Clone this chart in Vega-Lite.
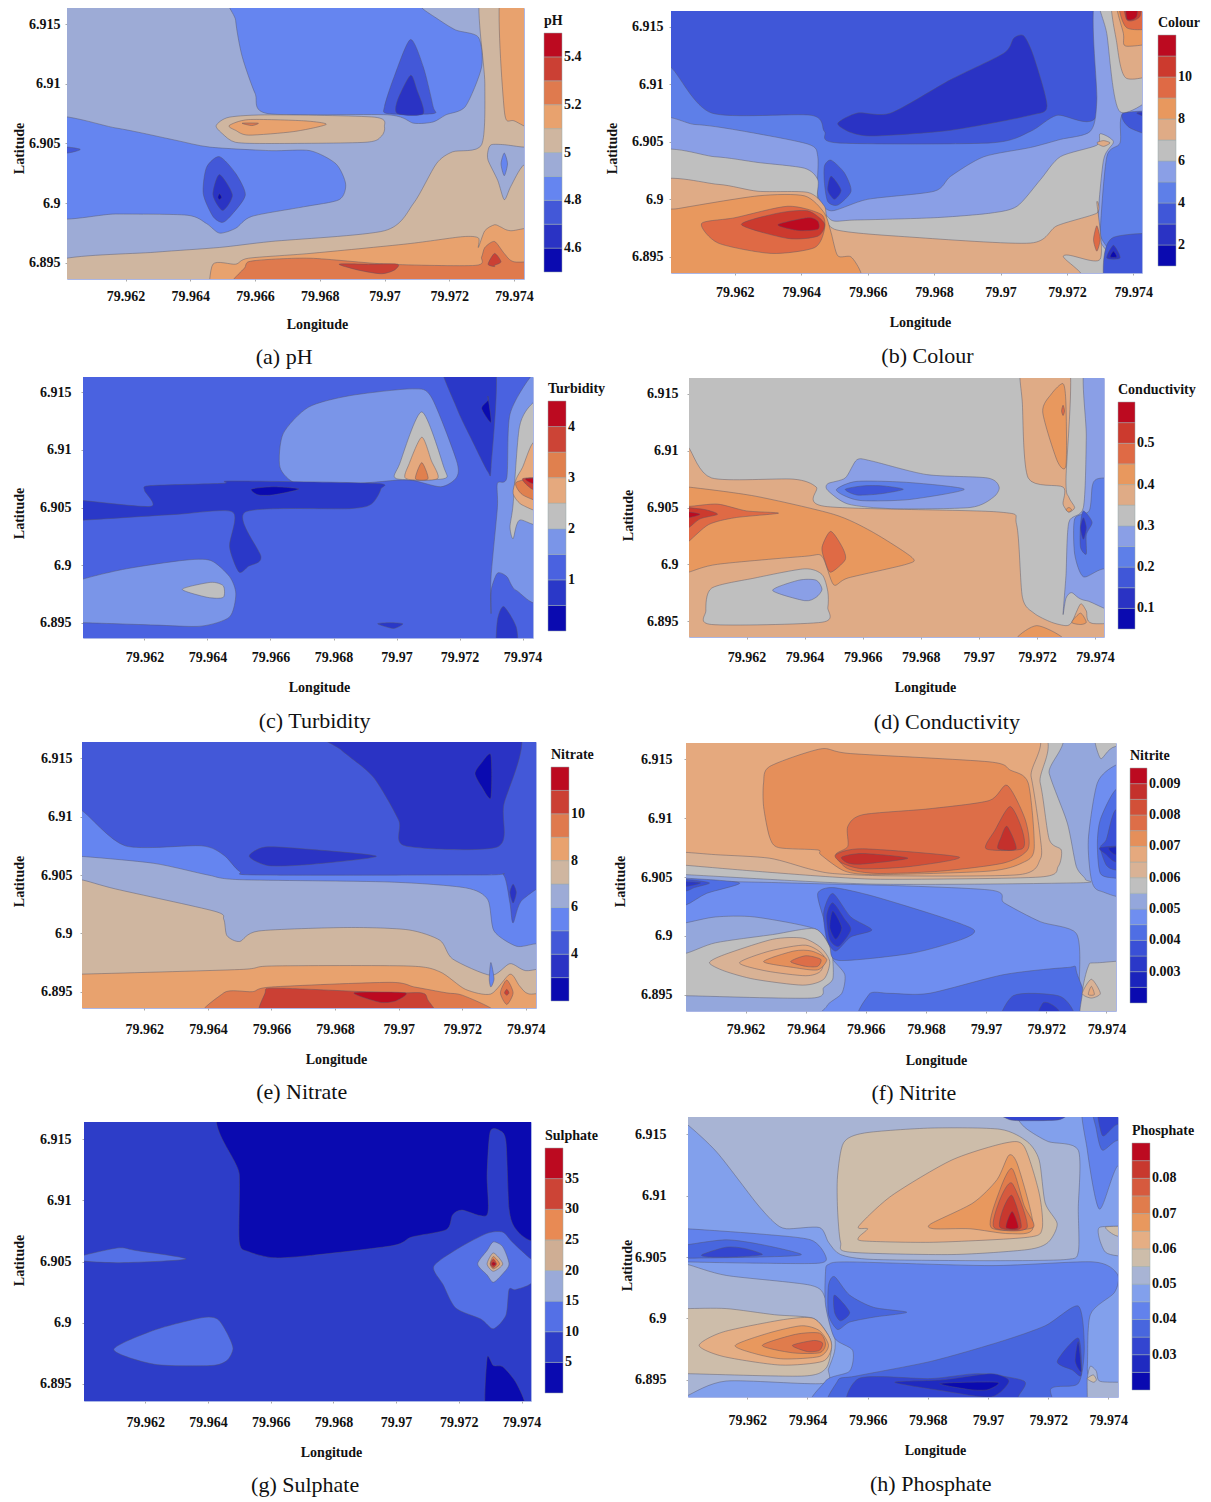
{"$schema":"https://vega.github.io/schema/vega-lite/v6.json","padding":{"left":0,"top":7,"right":0,"bottom":0},"background":"white","config":{"font":"Liberation Serif","view":{"stroke":"#aab6e6","strokeWidth":1},"axis":{"grid":false,"domain":false,"tickColor":"#aaa","tickSize":2,"labelFont":"Liberation Serif","labelFontWeight":"bold","labelFontSize":14,"labelColor":"#111","titleFont":"Liberation Serif","titleFontWeight":"bold","titleFontSize":14,"titleColor":"#111"},"legend":{"orient":"none","gradientStrokeColor":"#9aa","gradientStrokeWidth":0.5,"labelOverlap":false,"labelOffset":6,"titleFont":"Liberation Serif","titleFontWeight":"bold","titleFontSize":14,"titleColor":"#111","labelFont":"Liberation Serif","labelFontWeight":"bold","labelFontSize":14,"labelColor":"#111"},"line":{"interpolate":"cardinal-closed","tension":0.25,"order":null,"stroke":"#556","strokeWidth":0.6,"strokeOpacity":0.75},"text":{"fontSize":22,"color":"#111"}},"resolve":{"scale":{"fill":"independent"}},"spacing":7,"vconcat":[
{"spacing":22,"resolve":{"scale":{"fill":"independent"}},"hconcat":[
{"spacing":11,"resolve":{"scale":{"fill":"independent"}},"hconcat":[{"width":1,"height":1,"data":{"values":[{"s":0}]},"mark":{"type":"point","size":0,"opacity":0},"encoding":{},"view":{"stroke":null}},
{"width":457,"height":271,"layer":[{"data":{"values":[
{"id":1,"v":4.95,"x":[79.959,79.976,79.976,79.959],"y":[6.892,6.892,6.918,6.918]},
{"id":2,"v":5.05,"x":[79.9599,79.9629,79.9649,79.9665,79.97,79.9709,79.9716,79.9721,79.973,79.9731,79.973,79.975,79.975,79.9599],"y":[6.8952,6.8959,6.8963,6.8968,6.8977,6.9,6.9033,6.9043,6.9049,6.91,6.918,6.918,6.892,6.892]},
{"id":3,"v":4.85,"x":[79.9595,79.9617,79.9635,79.9646,79.9665,79.9677,79.9685,79.9688,79.9686,79.9675,79.9659,79.9654,79.9649,79.9645,79.9639,79.9617,79.9595],"y":[6.907,6.9063,6.9053,6.9047,6.9044,6.9044,6.9033,6.9016,6.9003,6.8997,6.8989,6.8979,6.8975,6.8983,6.899,6.8991,6.8991]},
{"id":4,"v":4.85,"x":[79.9654,79.9654,79.9656,79.966,79.9664,79.9701,79.9709,79.9715,79.9719,79.9725,79.973,79.9729,79.9722,79.9716,79.9711,79.9709],"y":[6.918,6.9153,6.9123,6.9092,6.9075,6.9074,6.9067,6.9068,6.9074,6.9081,6.9114,6.9139,6.9145,6.9155,6.9165,6.918]},
{"id":5,"v":4.75,"x":[79.9708,79.9712,79.9715,79.9715,79.9701,79.97,79.9703],"y":[6.9137,6.9114,6.9081,6.9075,6.9075,6.9081,6.9106]},
{"id":6,"v":4.65,"x":[79.9708,79.971,79.9712,79.9704,79.9704],"y":[6.9107,6.9095,6.9075,6.9075,6.9086]},
{"id":7,"v":4.75,"x":[79.9649,79.9654,79.9657,79.9653,79.965,79.9647,79.9644,79.9645],"y":[6.9039,6.9025,6.9007,6.8991,6.8984,6.8989,6.9008,6.903]},
{"id":8,"v":4.65,"x":[79.9649,79.9653,79.965,79.9647],"y":[6.9024,6.9007,6.8994,6.9007]},
{"id":9,"v":4.55,"x":[79.9649,79.96497,79.9649,79.96485],"y":[6.9008,6.9005,6.9003,6.9005]},
{"id":10,"v":4.75,"x":[79.9595,79.9602,79.9606,79.9602,79.9595],"y":[6.9047,6.9047,6.9045,6.9042,6.9042]},
{"id":11,"v":5.05,"x":[79.9648,79.9652,79.9665,79.9697,79.97,79.9699,79.9694,79.9665,79.9654,79.965],"y":[6.9065,6.9072,6.9074,6.9072,6.9064,6.9056,6.9051,6.905,6.9051,6.9058]},
{"id":12,"v":5.15,"x":[79.9652,79.9658,79.9675,79.9682,79.9672,79.9658,79.9654],"y":[6.9065,6.907,6.9069,6.9066,6.906,6.9057,6.9061]},
{"id":13,"v":5.25,"x":[79.9656,79.9661,79.9659],"y":[6.9067,6.9067,6.9065]},
{"id":14,"v":5.15,"x":[79.9736,79.9737,79.974,79.975,79.975],"y":[6.918,6.9078,6.9069,6.9067,6.918]},
{"id":15,"v":4.95,"x":[79.9732,79.9733,79.9737,79.9743,79.975,79.975,79.9743,79.9739,79.9737,79.9735,79.9732],"y":[6.9044,6.9049,6.9049,6.9047,6.9047,6.9039,6.9032,6.9014,6.9003,6.9019,6.9036]},
{"id":16,"v":4.85,"x":[79.9737,79.9738,79.9737,79.9736],"y":[6.9042,6.9033,6.9023,6.9033]},
{"id":17,"v":5.15,"x":[79.96455,79.9647,79.9654,79.9658,79.9677,79.9707,79.9724,79.9729,79.9729,79.9731,79.9734,79.9736,79.9739,79.975,79.975,79.96455],"y":[6.892,6.8949,6.8949,6.8954,6.8958,6.8966,6.8972,6.8971,6.8963,6.8977,6.8982,6.898,6.8977,6.8977,6.892,6.892]},
{"id":18,"v":5.25,"x":[79.9657,79.9657,79.966,79.9677,79.9701,79.9728,79.973,79.9731,79.9734,79.9737,79.974,79.975,79.975],"y":[6.892,6.8947,6.8952,6.8954,6.8949,6.8948,6.8955,6.8963,6.8968,6.8958,6.8951,6.8949,6.892]},
{"id":19,"v":5.35,"x":[79.9686,79.9695,79.9704,79.9703,79.9699,79.9692],"y":[6.8949,6.8949,6.8949,6.8944,6.8941,6.8944]},
{"id":20,"v":5.35,"x":[79.9732,79.9734,79.9736,79.9734,79.9734],"y":[6.8949,6.8958,6.8951,6.8948,6.8947]}
]},"transform":[{"flatten":["x","y"]}],"mark":{"type":"line","clip":true},"encoding":{"x":{"field":"x","type":"quantitative","scale":{"domain":[79.96019,79.97431],"nice":false,"zero":false},"axis":{"values":[79.962,79.964,79.966,79.968,79.97,79.972,79.974],"labelExpr":"datum.value","title":"Longitude","labelPadding":8,"titlePadding":14,"titleX":250}},"y":{"field":"y","type":"quantitative","scale":{"domain":[6.89366,6.91634],"nice":false,"zero":false},"axis":{"values":[6.895,6.9,6.905,6.91,6.915],"labelExpr":"datum.value","title":"Latitude","labelPadding":5,"titlePadding":2,"titleY":140}},"detail":{"field":"id"},"fill":{"field":"v","type":"quantitative","scale":{"type":"threshold","domain":[4.6,4.7,4.8,4.9,5,5.1,5.2,5.3,5.4],"range":["#0a0ab0","#2a33c4","#4358d8","#6585f0","#9dabd6","#cfb6a0","#e8a26e","#df7a4e","#cb4034","#bc0a20"]},"legend":{"type":"gradient","title":"pH","legendX":477,"legendY":6,"gradientLength":239,"gradientThickness":18,"labelExpr":"indexof([4.6,4.8,5,5.2,5.4],datum.value)<0?'':datum.value"}}}},{"data":{"values":[{"c":"(a) pH"}]},"mark":"text","encoding":{"text":{"field":"c"},"x":{"datum":79.9669},"y":{"datum":6.8871}}}]}]},
{"spacing":1,"resolve":{"scale":{"fill":"independent"}},"vconcat":[{"width":1,"height":1,"data":{"values":[{"s":0}]},"mark":{"type":"point","size":0,"opacity":0},"encoding":{},"view":{"stroke":null}},
{"width":471,"height":262,"layer":[{"data":{"values":[
{"id":1,"v":3.5,"x":[79.959,79.976,79.976,79.959],"y":[6.892,6.892,6.918,6.918]},
{"id":2,"v":4.5,"x":[79.9595,79.9601,79.9613,79.9643,79.9647,79.9651,79.9697,79.9709,79.9717,79.9729,79.973,79.975,79.975,79.9595],"y":[6.9118,6.9114,6.9075,6.9073,6.9059,6.9049,6.9049,6.9059,6.9073,6.9073,6.918,6.918,6.892,6.892]},
{"id":3,"v":5.5,"x":[79.9595,79.9608,79.9621,79.9642,79.9645,79.9645,79.9649,79.966,79.968,79.9685,79.9695,79.9709,79.9718,79.9727,79.9729,79.9729,79.975,79.975,79.9737,79.9736,79.9732,79.973,79.973,79.9595],"y":[6.9063,6.9065,6.906,6.9048,6.9037,6.9003,6.899,6.9,6.9007,6.902,6.9037,6.9045,6.9052,6.9059,6.9086,6.918,6.918,6.9075,6.9075,6.9049,6.9037,6.8971,6.892,6.892]},
{"id":4,"v":6.5,"x":[79.9595,79.9614,79.9627,79.9641,79.9645,79.9645,79.9649,79.9656,79.968,79.9697,79.9705,79.9712,79.9718,79.9729,79.973,79.9734,79.9731,79.9729,79.9729,79.9595],"y":[6.9037,6.9037,6.9032,6.9027,6.9017,6.9,6.8982,6.8982,6.8984,6.8988,6.8994,6.9017,6.9037,6.9047,6.9057,6.905,6.9034,6.8971,6.892,6.892]},
{"id":5,"v":7.5,"x":[79.9595,79.9615,79.9627,79.9642,79.9647,79.965,79.9674,79.9709,79.9717,79.9729,79.9729,79.973,79.9719,79.9719,79.9595],"y":[6.9013,6.9013,6.9007,6.9006,6.8994,6.8974,6.8967,6.8962,6.8977,6.8988,6.8997,6.8948,6.8951,6.892,6.892]},
{"id":6,"v":8.5,"x":[79.9595,79.9603,79.9627,79.9641,79.9647,79.9649,79.9651,79.9655,79.9658,79.9658,79.9595],"y":[6.8987,6.8992,6.9003,6.9003,6.8988,6.8971,6.8951,6.895,6.8936,6.892,6.892]},
{"id":7,"v":9.5,"x":[79.961,79.962,79.9636,79.9646,79.9647,79.9644,79.9631,79.9615],"y":[6.8979,6.8984,6.8994,6.8987,6.8974,6.8958,6.8953,6.8962]},
{"id":8,"v":10.5,"x":[79.9622,79.9633,79.9642,79.9647,79.9645,79.9636],"y":[6.8978,6.8988,6.899,6.8979,6.8968,6.8966]},
{"id":9,"v":11.5,"x":[79.9633,79.9642,79.9645,79.9645,79.9639],"y":[6.8978,6.8984,6.8981,6.8974,6.8973]},
{"id":10,"v":2.5,"x":[79.9651,79.9657,79.9667,79.9685,79.9701,79.9704,79.9707,79.971,79.9714,79.9709,79.9685,79.9662,79.9655],"y":[6.9066,6.9075,6.9075,6.9104,6.9127,6.914,6.9142,6.9124,6.9081,6.9073,6.906,6.9055,6.9058]},
{"id":11,"v":3.5,"x":[79.9649,79.9653,79.9655,79.9651,79.9648,79.9647,79.9647],"y":[6.9034,6.9023,6.9007,6.8995,6.8998,6.9014,6.9029]},
{"id":12,"v":2.5,"x":[79.9649,79.9652,79.965,79.9648],"y":[6.902,6.9008,6.9,6.9008]},
{"id":13,"v":3.5,"x":[79.9734,79.975,79.975,79.9733,79.9731],"y":[6.8967,6.8967,6.892,6.892,6.8945]},
{"id":14,"v":2.5,"x":[79.9734,79.9736,79.9732],"y":[6.896,6.8949,6.8949]},
{"id":15,"v":1.5,"x":[79.9734,79.9735,79.9733],"y":[6.8955,6.895,6.895]},
{"id":16,"v":9.5,"x":[79.9729,79.973,79.9729,79.9728],"y":[6.8977,6.8965,6.8955,6.8965]},
{"id":17,"v":3.5,"x":[79.9737,79.975,79.975,79.9739],"y":[6.9075,6.9075,6.9053,6.9062]},
{"id":18,"v":2.5,"x":[79.9741,79.975,79.975],"y":[6.9075,6.9075,6.9066]},
{"id":19,"v":6.5,"x":[79.973,79.9732,79.9736,79.975,79.975],"y":[6.918,6.9144,6.9076,6.9104,6.918]},
{"id":20,"v":7.5,"x":[79.9734,79.9735,79.9738,79.975,79.975],"y":[6.918,6.9136,6.9105,6.9117,6.918]},
{"id":21,"v":8.5,"x":[79.9735,79.9737,79.9738,79.975,79.975],"y":[6.918,6.9144,6.9133,6.9141,6.918]},
{"id":22,"v":9.5,"x":[79.9736,79.9738,79.975,79.975],"y":[6.918,6.9149,6.9152,6.918]},
{"id":23,"v":10.5,"x":[79.9737,79.9738,79.9742,79.9742],"y":[6.918,6.9156,6.9159,6.918]},
{"id":24,"v":11.5,"x":[79.9738,79.9738,79.9741,79.9741],"y":[6.918,6.9157,6.9159,6.918]},
{"id":25,"v":7.5,"x":[79.9729,79.9731,79.9733,79.9731],"y":[6.9049,6.9051,6.9049,6.9046]}
]},"transform":[{"flatten":["x","y"]}],"mark":{"type":"line","clip":true},"encoding":{"x":{"field":"x","type":"quantitative","scale":{"domain":[79.96008,79.97426],"nice":false,"zero":false},"axis":{"values":[79.962,79.964,79.966,79.968,79.97,79.972,79.974],"labelExpr":"datum.value","title":"Longitude","labelPadding":10,"titlePadding":16,"titleX":249}},"y":{"field":"y","type":"quantitative","scale":{"domain":[6.8936,6.91636],"nice":false,"zero":false},"axis":{"values":[6.895,6.9,6.905,6.91,6.915],"labelExpr":"datum.value","title":"Latitude","labelPadding":6,"titlePadding":12,"titleY":137}},"detail":{"field":"id"},"fill":{"field":"v","type":"quantitative","scale":{"type":"threshold","domain":[2,3,4,5,6,7,8,9,10,11],"range":["#0a0ab0","#2a33c4","#4057d8","#5e7fe8","#8a9fe6","#bfbfbf","#dfab86","#e8985e","#df6a45","#cc3a2e","#bc0a20"]},"legend":{"type":"gradient","title":"Colour","legendX":487,"legendY":5,"gradientLength":231,"gradientThickness":18,"labelExpr":"indexof([2,4,6,8,10],datum.value)<0?'':datum.value"}}}},{"data":{"values":[{"c":"(b) Colour"}]},"mark":"text","encoding":{"text":{"field":"c"},"x":{"datum":79.9678},"y":{"datum":6.8864}}}]}]}
]},
{"spacing":14,"resolve":{"scale":{"fill":"independent"}},"hconcat":[
{"spacing":11,"resolve":{"scale":{"fill":"independent"}},"hconcat":[{"width":1,"height":1,"data":{"values":[{"s":0}]},"mark":{"type":"point","size":0,"opacity":0},"encoding":{},"view":{"stroke":null}},
{"width":450,"height":261,"layer":[{"data":{"values":[
{"id":1,"v":1.25,"x":[79.959,79.976,79.976,79.959],"y":[6.892,6.892,6.918,6.918]},
{"id":2,"v":0.75,"x":[79.9714,79.9719,79.9724,79.9729,79.973,79.9731],"y":[6.918,6.9137,6.9108,6.9081,6.9085,6.918]},
{"id":3,"v":0.25,"x":[79.9729,79.9729,79.973,79.9727],"y":[6.9143,6.9146,6.9124,6.9136]},
{"id":4,"v":1.75,"x":[79.9663,79.9664,79.9672,79.9685,79.9705,79.9711,79.9719,79.9719,79.9714,79.9704,79.9693,79.9679,79.9668],"y":[6.9085,6.9114,6.9137,6.9147,6.9153,6.9146,6.9091,6.9076,6.9068,6.9074,6.9072,6.9069,6.9071]},
{"id":5,"v":2.25,"x":[79.9708,79.9715,79.9715,79.97,79.9701],"y":[6.9133,6.9085,6.9075,6.9075,6.9088]},
{"id":6,"v":2.75,"x":[79.9708,79.9711,79.9713,79.9703,79.9704],"y":[6.9111,6.9091,6.9075,6.9075,6.9088]},
{"id":7,"v":3.25,"x":[79.9708,79.971,79.9706],"y":[6.9089,6.9075,6.9075]},
{"id":8,"v":0.75,"x":[79.9595,79.96005,79.9622,79.962,79.9622,79.9645,79.9648,79.9693,79.9695,79.9692,79.9685,79.9652,79.9657,79.9653,79.965,79.9647,79.9648,79.963,79.96005,79.9595],"y":[6.9056,6.9056,6.9051,6.9065,6.9069,6.9071,6.9073,6.9071,6.9066,6.9053,6.9049,6.9046,6.9007,6.8999,6.8994,6.9016,6.9046,6.9044,6.9039,6.9039]},
{"id":9,"v":0.25,"x":[79.9654,79.9661,79.9669,79.9661,79.9656],"y":[6.9066,6.9068,6.9066,6.9061,6.9061]},
{"id":10,"v":1.75,"x":[79.9595,79.9611,79.9632,79.9641,79.9647,79.9649,79.9647,79.9638,79.9623,79.96005,79.9595],"y":[6.8981,6.8995,6.9004,6.9004,6.899,6.8975,6.8955,6.8947,6.8948,6.895,6.895]},
{"id":11,"v":2.25,"x":[79.9632,79.9641,79.9645,79.9645,79.964],"y":[6.8979,6.8985,6.8982,6.8972,6.8972]},
{"id":12,"v":0.75,"x":[79.9694,79.9698,79.9702,79.9699],"y":[6.8949,6.895,6.8949,6.8945]},
{"id":13,"v":1.75,"x":[79.9743,79.9736,79.9735,79.9732,79.9732,79.973,79.973,79.973,79.9732,79.9735,79.9738,79.9747,79.9747],"y":[6.9165,6.9131,6.9076,6.9071,6.905,6.899,6.8958,6.8978,6.8993,6.899,6.8978,6.8977,6.9165]},
{"id":14,"v":0.75,"x":[79.9732,79.9734,79.9738,79.9738,79.9732],"y":[6.8952,6.8964,6.8946,6.8925,6.8925]},
{"id":15,"v":2.25,"x":[79.9743,79.9739,79.9737,79.9736,79.9737,79.9739,79.9747,79.9747],"y":[6.914,6.912,6.9053,6.9033,6.9023,6.9039,6.904,6.914]},
{"id":16,"v":2.75,"x":[79.9743,79.974,79.9738,79.9737,79.974,79.9747,79.9747],"y":[6.9105,6.9085,6.9075,6.9062,6.9052,6.905,6.9111]},
{"id":17,"v":3.25,"x":[79.9738,79.974,79.9747,79.9747],"y":[6.9072,6.9061,6.9055,6.9075]},
{"id":18,"v":3.75,"x":[79.974,79.9743,79.9747,79.9747],"y":[6.9075,6.9066,6.9065,6.9075]},
{"id":19,"v":4.25,"x":[79.9741,79.9743,79.9747,79.9747],"y":[6.9075,6.9071,6.9071,6.9075]}
]},"transform":[{"flatten":["x","y"]}],"mark":{"type":"line","clip":true},"encoding":{"x":{"field":"x","type":"quantitative","scale":{"domain":[79.96005,79.97433],"nice":false,"zero":false},"axis":{"values":[79.962,79.964,79.966,79.968,79.97,79.972,79.974],"labelExpr":"datum.value","title":"Longitude","labelPadding":10,"titlePadding":16,"titleX":236}},"y":{"field":"y","type":"quantitative","scale":{"domain":[6.89367,6.91633],"nice":false,"zero":false},"axis":{"values":[6.895,6.9,6.905,6.91,6.915],"labelExpr":"datum.value","title":"Latitude","labelPadding":10,"titlePadding":13,"titleY":136}},"detail":{"field":"id"},"fill":{"field":"v","type":"quantitative","scale":{"type":"threshold","domain":[0.5,1,1.5,2,2.5,3,3.5,4],"range":["#0a0ab0","#2a38c8","#4a62e0","#7a95e8","#bfbfbf","#e5a97e","#e0804e","#cc4436","#bc0a20"]},"legend":{"type":"gradient","title":"Turbidity","legendX":465,"legendY":5,"gradientLength":230,"gradientThickness":18,"labelExpr":"indexof([1,2,3,4],datum.value)<0?'':datum.value"}}}},{"data":{"values":[{"c":"(c) Turbidity"}]},"mark":"text","encoding":{"text":{"field":"c"},"x":{"datum":79.9674},"y":{"datum":6.8865}}}]}]},
{"spacing":-1,"resolve":{"scale":{"fill":"independent"}},"vconcat":[{"width":1,"height":1,"data":{"values":[{"s":0}]},"mark":{"type":"point","size":0,"opacity":0},"encoding":{},"view":{"stroke":null}},
{"width":415,"height":259,"layer":[{"data":{"values":[
{"id":1,"v":0.325,"x":[79.959,79.976,79.976,79.959],"y":[6.892,6.892,6.918,6.918]},
{"id":2,"v":0.375,"x":[79.9596,79.96,79.9608,79.9636,79.9644,79.9647,79.9707,79.9713,79.9715,79.9719,79.9725,79.973,79.9732,79.9735,79.9737,79.9739,79.9757,79.9757,79.9596],"y":[6.9109,6.9103,6.9076,6.9075,6.9068,6.9051,6.9046,6.9035,6.8971,6.8957,6.8949,6.8946,6.8949,6.8965,6.8959,6.8948,6.8947,6.892,6.892]},
{"id":3,"v":0.425,"x":[79.9595,79.96,79.9623,79.965,79.9663,79.9677,79.9675,79.9655,79.965,79.9646,79.964,79.961,79.96,79.9595],"y":[6.9068,6.9068,6.906,6.9044,6.9029,6.9006,6.9,6.8988,6.8982,6.9007,6.9007,6.9,6.8993,6.899]},
{"id":4,"v":0.475,"x":[79.9595,79.96,79.961,79.962,79.9631,79.9616,79.9607,79.96,79.9595],"y":[6.9053,6.9051,6.9053,6.9047,6.9045,6.9041,6.9035,6.902,6.9012]},
{"id":5,"v":0.525,"x":[79.9595,79.96,79.9606,79.961,79.9604,79.96,79.9595],"y":[6.9053,6.905,6.9048,6.9044,6.904,6.9032,6.9026]},
{"id":6,"v":0.575,"x":[79.9595,79.96,79.9604,79.96,79.9595],"y":[6.9046,6.9046,6.9044,6.9041,6.904]},
{"id":7,"v":0.475,"x":[79.9649,79.9653,79.9654,79.9649,79.9647,79.9646],"y":[6.9029,6.9015,6.9004,6.8993,6.9003,6.9015]},
{"id":8,"v":0.325,"x":[79.9606,79.9608,79.9623,79.964,79.9646,79.9648,79.9648,79.9646,79.9608],"y":[6.8959,6.8979,6.8988,6.8996,6.8991,6.8976,6.8962,6.8949,6.8947]},
{"id":9,"v":0.275,"x":[79.9629,79.9638,79.9644,79.9646,79.9644,79.964],"y":[6.8977,6.8986,6.8986,6.8978,6.8971,6.8968]},
{"id":10,"v":0.425,"x":[79.9713,79.9713,79.972,79.9729,79.9729],"y":[6.892,6.8935,6.8946,6.8935,6.892]},
{"id":11,"v":0.375,"x":[79.9715,79.9715,79.9717,79.9729,79.9729,79.9731,79.9733,79.9731,79.973,79.9731],"y":[6.918,6.9141,6.9076,6.9068,6.9053,6.9046,6.905,6.9059,6.9074,6.918]},
{"id":12,"v":0.425,"x":[79.9729,79.973,79.973,79.9727,79.9722,79.9725],"y":[6.9159,6.9141,6.9087,6.9091,6.9134,6.915]},
{"id":13,"v":0.475,"x":[79.9729,79.97295,79.9729,79.97285],"y":[6.914,6.9135,6.9131,6.9135]},
{"id":14,"v":0.425,"x":[79.9731,79.9732,79.9731,79.973],"y":[6.905,6.9048,6.9046,6.9048]},
{"id":15,"v":0.425,"x":[79.9732,79.9735,79.9737,79.9735],"y":[6.8949,6.8957,6.8949,6.8947]},
{"id":16,"v":0.275,"x":[79.9737,79.9737,79.9736,79.9731,79.973,79.9729,79.973,79.9732,79.9737,79.9757,79.9757],"y":[6.918,6.9112,6.905,6.9037,6.899,6.8956,6.897,6.8975,6.8968,6.8967,6.918]},
{"id":17,"v":0.225,"x":[79.974,79.9739,79.9738,79.9733,79.9733,79.9736,79.9743,79.9757,79.9757,79.9743],"y":[6.9074,6.9068,6.9047,6.904,6.9009,6.8989,6.8996,6.8996,6.9076,6.9076]},
{"id":18,"v":0.175,"x":[79.9736,79.9739,79.9737,79.9737,79.9735,79.9735],"y":[6.9047,6.9037,6.9026,6.9009,6.9015,6.9035]},
{"id":19,"v":0.125,"x":[79.9736,79.9737,79.9736,79.9735],"y":[6.9041,6.9032,6.9022,6.9032]},
{"id":20,"v":0.275,"x":[79.9648,79.9654,79.9658,79.9663,79.9682,79.9703,79.9707,79.9705,79.9697,79.967,79.9655,79.9648],"y":[6.9071,6.9076,6.9092,6.9091,6.9079,6.9076,6.9068,6.9059,6.905,6.9049,6.9053,6.9065]},
{"id":21,"v":0.225,"x":[79.9651,79.9658,79.9676,79.9695,79.9676,79.966,79.9654],"y":[6.9066,6.9073,6.9072,6.9066,6.9057,6.9056,6.906]},
{"id":22,"v":0.175,"x":[79.9654,79.966,79.9667,79.9674,79.9666,79.9658],"y":[6.9066,6.9069,6.9069,6.9066,6.9062,6.9061]}
]},"transform":[{"flatten":["x","y"]}],"mark":{"type":"line","clip":true},"encoding":{"x":{"field":"x","type":"quantitative","scale":{"domain":[79.96002,79.97431],"nice":false,"zero":false},"axis":{"values":[79.962,79.964,79.966,79.968,79.97,79.972,79.974],"labelExpr":"datum.value","title":"Longitude","labelPadding":11,"titlePadding":16,"titleX":236}},"y":{"field":"y","type":"quantitative","scale":{"domain":[6.8936,6.9164],"nice":false,"zero":false},"axis":{"values":[6.895,6.9,6.905,6.91,6.915],"labelExpr":"datum.value","title":"Latitude","labelPadding":9,"titlePadding":11,"titleY":137}},"detail":{"field":"id"},"fill":{"field":"v","type":"quantitative","scale":{"type":"threshold","domain":[0.1,0.15,0.2,0.25,0.3,0.35,0.4,0.45,0.5,0.55],"range":["#0a0ab0","#2a33c4","#4057d8","#5e7fe8","#8a9fe6","#bfbfbf","#dfab86","#e8985e","#df6a45","#cc3a2e","#bc0a20"]},"legend":{"type":"gradient","title":"Conductivity","legendX":429,"legendY":5,"gradientLength":227,"gradientThickness":17,"labelExpr":"indexof([0.1,0.2,0.3,0.4,0.5],datum.value)<0?'':datum.value"}}}},{"data":{"values":[{"c":"(d) Conductivity"}]},"mark":"text","encoding":{"text":{"field":"c"},"x":{"datum":79.9689},"y":{"datum":6.8861}}}]}]}
]},
{"spacing":18,"resolve":{"scale":{"fill":"independent"}},"hconcat":[
{"spacing":11,"resolve":{"scale":{"fill":"independent"}},"hconcat":[{"width":1,"height":1,"data":{"values":[{"s":0}]},"mark":{"type":"point","size":0,"opacity":0},"encoding":{},"view":{"stroke":null}},
{"width":454,"height":266,"title":{"text":" ","fontSize":1,"offset":-1},"layer":[{"data":{"values":[
{"id":1,"v":4.5,"x":[79.959,79.976,79.976,79.959],"y":[6.892,6.892,6.918,6.918]},
{"id":2,"v":3.5,"x":[79.9673,79.9682,79.9692,79.97,79.9702,79.9731,79.9733,79.9736],"y":[6.918,6.9157,6.9134,6.9097,6.9075,6.9074,6.9109,6.918]},
{"id":3,"v":2.5,"x":[79.9729,79.9729,79.9726,79.9724,79.9726],"y":[6.9153,6.9116,6.9126,6.9137,6.9146]},
{"id":4,"v":3.5,"x":[79.9653,79.9658,79.9672,79.9693,79.9672,79.9659],"y":[6.9066,6.9074,6.9072,6.9066,6.9059,6.9058]},
{"id":5,"v":5.5,"x":[79.9593,79.96,79.9614,79.9638,79.9645,79.965,79.9656,79.9727,79.9733,79.9735,79.9736,79.9739,79.975,79.975,79.9593],"y":[6.9109,6.9106,6.9075,6.9075,6.9067,6.9053,6.905,6.905,6.905,6.9026,6.9009,6.9029,6.9038,6.892,6.892]},
{"id":6,"v":6.5,"x":[79.9593,79.96,79.9623,79.964,79.965,79.9697,79.9721,79.9728,79.973,79.9737,79.9743,79.975,79.975,79.9593],"y":[6.9066,6.9066,6.906,6.905,6.9046,6.9044,6.9039,6.9029,6.9002,6.8989,6.8991,6.8992,6.892,6.892]},
{"id":7,"v":7.5,"x":[79.9593,79.96,79.9611,79.9642,79.9645,79.9646,79.965,79.9656,79.9684,79.9703,79.9713,79.9717,79.9729,79.9735,79.974,79.975,79.975,79.9593],"y":[6.9046,6.9046,6.9038,6.9019,6.9012,6.8998,6.8993,6.9002,6.9005,6.9003,6.8994,6.8978,6.8964,6.8974,6.8968,6.8968,6.892,6.892]},
{"id":8,"v":8.5,"x":[79.9593,79.96,79.965,79.966,79.9703,79.9713,79.9721,79.9729,79.9735,79.9738,79.9741,79.975,79.975,79.9593],"y":[6.8965,6.8965,6.8969,6.8972,6.8972,6.8967,6.8952,6.8948,6.8965,6.8955,6.8948,6.8948,6.892,6.892]},
{"id":9,"v":9.5,"x":[79.9641,79.9645,79.9654,79.966,79.9697,79.9705,79.9715,79.972,79.973,79.973],"y":[6.892,6.8949,6.895,6.8954,6.8958,6.8954,6.8949,6.8947,6.8934,6.892]},
{"id":10,"v":10.5,"x":[79.9659,79.9658,79.9662,79.9697,79.9707,79.9709,79.971],"y":[6.892,6.8949,6.8953,6.8949,6.8949,6.8944,6.892]},
{"id":11,"v":11.5,"x":[79.9686,79.9702,79.9699,79.9694],"y":[6.8949,6.8949,6.8942,6.8941]},
{"id":12,"v":5.5,"x":[79.9729,79.973,79.9729,79.97285],"y":[6.8975,6.8961,6.8954,6.8961]},
{"id":13,"v":3.5,"x":[79.9736,79.9737,79.9736,79.9735],"y":[6.9042,6.9035,6.9026,6.9035]},
{"id":14,"v":9.5,"x":[79.9734,79.9736,79.9734,79.9732],"y":[6.896,6.8949,6.8939,6.8949]},
{"id":15,"v":10.5,"x":[79.9734,79.97347,79.9734,79.97333],"y":[6.8952,6.8949,6.8947,6.8949]}
]},"transform":[{"flatten":["x","y"]}],"mark":{"type":"line","clip":true},"encoding":{"x":{"field":"x","type":"quantitative","scale":{"domain":[79.96004,79.97432],"nice":false,"zero":false},"axis":{"values":[79.962,79.964,79.966,79.968,79.97,79.972,79.974],"labelExpr":"datum.value","title":"Longitude","labelPadding":12,"titlePadding":16,"titleX":254}},"y":{"field":"y","type":"quantitative","scale":{"domain":[6.8936,6.9164],"nice":false,"zero":false},"axis":{"values":[6.895,6.9,6.905,6.91,6.915],"labelExpr":"datum.value","title":"Latitude","labelPadding":8,"titlePadding":14,"titleY":139}},"detail":{"field":"id"},"fill":{"field":"v","type":"quantitative","scale":{"type":"threshold","domain":[3,4,5,6,7,8,9,10,11],"range":["#0a0ab0","#2a33c4","#4358d8","#6585f0","#9dabd6","#cfb6a0","#e8a26e","#df7a4e","#cb4034","#bc0a20"]},"legend":{"type":"gradient","title":"Nitrate","legendX":469,"legendY":6,"gradientLength":234,"gradientThickness":18,"labelExpr":"indexof([4,6,8,10],datum.value)<0?'':datum.value"}}}},{"data":{"values":[{"c":"(e) Nitrate"}]},"mark":"text","encoding":{"text":{"field":"c"},"x":{"datum":79.96695},"y":{"datum":6.8864}}}]}]},
{"spacing":-1,"resolve":{"scale":{"fill":"independent"}},"vconcat":[{"width":1,"height":1,"data":{"values":[{"s":0}]},"mark":{"type":"point","size":0,"opacity":0},"encoding":{},"view":{"stroke":null}},
{"width":430,"height":268,"layer":[{"data":{"values":[
{"id":1,"v":0.00525,"x":[79.959,79.976,79.976,79.959],"y":[6.892,6.892,6.918,6.918]},
{"id":2,"v":0.00575,"x":[79.9591,79.9718,79.9721,79.9727,79.973,79.9733,79.973,79.9662,79.96,79.9591],"y":[6.918,6.918,6.9138,6.9096,6.9059,6.9048,6.9045,6.9044,6.9052,6.9052]},
{"id":3,"v":0.00625,"x":[79.9591,79.9712,79.9718,79.9721,79.9725,79.9724,79.9718,79.9668,79.9649,79.9623,79.96,79.9591],"y":[6.918,6.918,6.913,6.9082,6.9073,6.9059,6.905,6.9048,6.905,6.9055,6.906,6.9062]},
{"id":4,"v":0.00675,"x":[79.9591,79.971,79.9715,79.9718,79.9718,79.9711,79.9668,79.9649,79.9641,79.9628,79.961,79.96,79.9591],"y":[6.918,6.918,6.9135,6.9084,6.9065,6.9052,6.9051,6.9053,6.9057,6.9066,6.9069,6.9071,6.9072]},
{"id":5,"v":0.00725,"x":[79.9626,79.9628,79.9645,79.9655,79.9701,79.9708,79.9714,79.9716,79.9712,79.9701,79.9664,79.9653,79.9645,79.9644,79.9631,79.9628,79.9626],"y":[6.913,6.9144,6.9159,6.9155,6.9148,6.9141,6.913,6.9074,6.9062,6.9055,6.9052,6.9055,6.9069,6.9073,6.9075,6.9084,6.911]},
{"id":6,"v":0.00775,"x":[79.9654,79.9659,79.9681,79.9701,79.9707,79.9713,79.9714,79.9706,79.9685,79.9664,79.9654,79.965,79.9654],"y":[6.9093,6.9103,6.9108,6.9115,6.9128,6.9099,6.9074,6.9062,6.9055,6.9053,6.9057,6.9069,6.9076]},
{"id":7,"v":0.00825,"x":[79.965,79.9659,79.9691,79.9675,79.9659,79.9652],"y":[6.9069,6.9074,6.9067,6.9059,6.9057,6.9062]},
{"id":8,"v":0.00875,"x":[79.9652,79.9659,79.9674,79.9659,79.9654],"y":[6.9067,6.907,6.9066,6.9061,6.9062]},
{"id":9,"v":0.00825,"x":[79.9708,79.9712,79.9712,79.97,79.9703],"y":[6.911,6.909,6.9074,6.9074,6.909]},
{"id":10,"v":0.00875,"x":[79.9707,79.971,79.9704,79.9705],"y":[6.9093,6.9074,6.9074,6.9084]},
{"id":11,"v":0.00575,"x":[79.9737,79.9738,79.9743,79.976,79.976],"y":[6.918,6.9151,6.9161,6.9161,6.918]},
{"id":12,"v":0.00475,"x":[79.975,79.9743,79.9737,79.9734,79.9735,79.9738,79.975],"y":[6.9147,6.9145,6.913,6.9082,6.9048,6.9038,6.9039]},
{"id":13,"v":0.00425,"x":[79.975,79.9743,79.9738,79.9737,79.9738,79.9743,79.975],"y":[6.913,6.9124,6.9099,6.9078,6.9053,6.9049,6.9048]},
{"id":14,"v":0.00375,"x":[79.975,79.9743,79.974,79.9738,79.974,79.9743,79.975],"y":[6.911,6.9107,6.9082,6.9075,6.906,6.9056,6.9056]},
{"id":15,"v":0.00325,"x":[79.975,79.9738,79.974,79.9743,79.975],"y":[6.9076,6.9075,6.9069,6.9063,6.9063]},
{"id":16,"v":0.00275,"x":[79.975,79.9741,79.9743,79.975],"y":[6.9075,6.9075,6.9069,6.9069]},
{"id":17,"v":0.00475,"x":[79.9591,79.9649,79.9701,79.9706,79.9718,79.973,79.9731,79.9729,79.9647,79.9647,79.9652,79.9653,79.9649,79.9648,79.9643,79.9623,79.961,79.96,79.9591],"y":[6.9044,6.9044,6.9039,6.9028,6.9012,6.9002,6.8963,6.892,6.892,6.894,6.8951,6.8967,6.898,6.8991,6.9006,6.9016,6.9016,6.9011,6.9008]},
{"id":18,"v":0.00575,"x":[79.9591,79.96,79.961,79.9629,79.9643,79.9648,79.9649,79.9649,79.9646,79.9642,79.96,79.9591],"y":[6.8984,6.8985,6.8994,6.9001,6.9006,6.8991,6.898,6.8963,6.8956,6.8947,6.8949,6.8949]},
{"id":19,"v":0.00625,"x":[79.9608,79.9613,79.9629,79.9639,79.9645,79.9648,79.9646,79.9639,79.9623,79.9613],"y":[6.8977,6.8984,6.8997,6.8998,6.899,6.8978,6.8963,6.8958,6.8963,6.897]},
{"id":20,"v":0.00675,"x":[79.9618,79.9628,79.964,79.9646,79.9645,79.964,79.9627],"y":[6.8977,6.8987,6.8992,6.8983,6.897,6.8966,6.897]},
{"id":21,"v":0.00725,"x":[79.9626,79.9636,79.9642,79.9647,79.9644,79.9636],"y":[6.8978,6.8987,6.8987,6.898,6.8971,6.8973]},
{"id":22,"v":0.00775,"x":[79.9635,79.964,79.9645,79.9644,79.964],"y":[6.8978,6.8983,6.898,6.8974,6.8974]},
{"id":23,"v":0.00425,"x":[79.9644,79.9649,79.9662,79.9685,79.9696,79.9692,79.9675,79.9651,79.9648,79.9646],"y":[6.9036,6.9041,6.9034,6.9016,6.9005,6.8997,6.8985,6.8979,6.8991,6.9014]},
{"id":24,"v":0.00375,"x":[79.9649,79.9655,79.9662,79.9655,79.965,79.9647,79.9646],"y":[6.9036,6.9016,6.9005,6.8999,6.8987,6.8997,6.902]},
{"id":25,"v":0.00325,"x":[79.9649,79.9653,79.9655,79.9651,79.9648,79.9647],"y":[6.9028,6.9014,6.9005,6.8991,6.8997,6.9017]},
{"id":26,"v":0.00275,"x":[79.9649,79.9652,79.965,79.9648],"y":[6.9021,6.9007,6.8997,6.9007]},
{"id":27,"v":0.00425,"x":[79.9591,79.96,79.9618,79.9607,79.96,79.9591],"y":[6.9049,6.9049,6.9045,6.9036,6.9026,6.9022]},
{"id":28,"v":0.00375,"x":[79.9591,79.96,79.9608,79.9603,79.96,79.9591],"y":[6.9048,6.9048,6.9045,6.9041,6.9038,6.9036]},
{"id":29,"v":0.00325,"x":[79.9591,79.96,79.9605,79.96,79.9591],"y":[6.9046,6.9046,6.9045,6.9042,6.9042]},
{"id":30,"v":0.00425,"x":[79.9661,79.9661,79.9668,79.9681,79.9706,79.9727,79.973,79.973],"y":[6.892,6.895,6.8951,6.8951,6.8967,6.8973,6.897,6.892]},
{"id":31,"v":0.00375,"x":[79.9705,79.9709,79.9724,79.9729,79.9729],"y":[6.892,6.8949,6.8949,6.8936,6.892]},
{"id":32,"v":0.00325,"x":[79.9716,79.9719,79.9724,79.9725],"y":[6.892,6.8943,6.8937,6.892]},
{"id":33,"v":0.00575,"x":[79.9733,79.9732,79.9734,79.9737,79.976,79.976],"y":[6.892,6.8951,6.8974,6.8977,6.8976,6.892]},
{"id":34,"v":0.00625,"x":[79.9735,79.9738,79.9735,79.9732],"y":[6.8963,6.8951,6.8947,6.8951]},
{"id":35,"v":0.00675,"x":[79.9735,79.9736,79.9734],"y":[6.8957,6.895,6.895]}
]},"transform":[{"flatten":["x","y"]}],"mark":{"type":"line","clip":true},"encoding":{"x":{"field":"x","type":"quantitative","scale":{"domain":[79.96002,79.97432],"nice":false,"zero":false},"axis":{"values":[79.962,79.964,79.966,79.968,79.97,79.972,79.974],"labelExpr":"datum.value","title":"Longitude","labelPadding":9,"titlePadding":17,"titleX":250}},"y":{"field":"y","type":"quantitative","scale":{"domain":[6.8936,6.9164],"nice":false,"zero":false},"axis":{"values":[6.895,6.9,6.905,6.91,6.915],"labelExpr":"datum.value","title":"Latitude","labelPadding":12,"titlePadding":13,"titleY":138}},"detail":{"field":"id"},"fill":{"field":"v","type":"quantitative","scale":{"type":"threshold","domain":[0.0025,0.003,0.0035,0.004,0.0045,0.005,0.0055,0.006,0.0065,0.007,0.0075,0.008,0.0085,0.009],"range":["#0a0ab0","#1a24bc","#2a38c8","#3a50d6","#4f6ee4","#6f8ef0","#94a7dc","#bfbfbf","#d9b295","#e5a97e","#e58f5a","#dd6e48","#d25038","#c4302c","#bc0a20"]},"legend":{"type":"gradient","title":"Nitrite","legendX":444,"legendY":6,"gradientLength":235,"gradientThickness":17,"labelExpr":"indexof([0.003,0.004,0.005,0.006,0.007,0.008,0.009],datum.value)<0?'':datum.value"}}}},{"data":{"values":[{"c":"(f) Nitrite"}]},"mark":"text","encoding":{"text":{"field":"c"},"x":{"datum":79.9676},"y":{"datum":6.8866}}}]}]}
]},
{"spacing":21,"resolve":{"scale":{"fill":"independent"}},"hconcat":[
{"spacing":11,"resolve":{"scale":{"fill":"independent"}},"hconcat":[{"width":1,"height":1,"data":{"values":[{"s":0}]},"mark":{"type":"point","size":0,"opacity":0},"encoding":{},"view":{"stroke":null}},
{"spacing":3,"resolve":{"scale":{"fill":"independent"}},"vconcat":[{"width":1,"height":1,"data":{"values":[{"s":0}]},"mark":{"type":"point","size":0,"opacity":0},"encoding":{},"view":{"stroke":null}},
{"width":447,"height":279,"layer":[{"data":{"values":[
{"id":1,"v":7.5,"x":[79.959,79.976,79.976,79.959],"y":[6.892,6.892,6.918,6.918]},
{"id":2,"v":2.5,"x":[79.9648,79.965,79.965,79.9653,79.9661,79.9673,79.9699,79.9705,79.9716,79.9718,79.9721,79.9729,79.9729,79.973,79.9733,79.9735,79.9736,79.9738,79.9743,79.9754,79.9754],"y":[6.918,6.9121,6.9066,6.9058,6.9053,6.9055,6.9063,6.907,6.9076,6.9088,6.9092,6.9088,6.9121,6.9156,6.9157,6.9148,6.9093,6.9077,6.9067,6.9067,6.918]},
{"id":3,"v":2.5,"x":[79.9729,79.9731,79.9734,79.9738,79.9741,79.9741,79.9729],"y":[6.8971,6.8965,6.8964,6.8952,6.8935,6.892,6.892]},
{"id":4,"v":12.5,"x":[79.9597,79.9611,79.9617,79.9633,79.9611],"y":[6.9052,6.9061,6.9059,6.9052,6.9049]},
{"id":5,"v":12.5,"x":[79.961,79.9623,79.9638,79.9643,79.9646,79.9648,79.9646,79.9641,79.9623],"y":[6.8978,6.8994,6.9004,6.9003,6.8992,6.8979,6.8969,6.8965,6.8966]},
{"id":6,"v":12.5,"x":[79.9712,79.972,79.9729,79.9734,79.9737,79.9743,79.9747,79.9743,79.9738,79.9736,79.9735,79.9731,79.9727,79.9719,79.9715],"y":[6.9046,6.9061,6.9073,6.9074,6.9066,6.9052,6.9047,6.9032,6.9027,6.9027,6.9006,6.8995,6.9003,6.9012,6.9031]},
{"id":7,"v":17.5,"x":[79.9726,79.9729,79.9731,79.9734,79.9736,79.9734,79.9731,79.9729],"y":[6.9048,6.9059,6.9066,6.9062,6.9048,6.904,6.9033,6.9039]},
{"id":8,"v":22.5,"x":[79.9729,79.9731,79.9734,79.9731],"y":[6.9048,6.9057,6.9048,6.9042]},
{"id":9,"v":27.5,"x":[79.973,79.9731,79.9733,79.9731],"y":[6.9048,6.9054,6.9048,6.9044]},
{"id":10,"v":32.5,"x":[79.973,79.9731,79.9732,79.9731],"y":[6.9048,6.9052,6.9048,6.9045]},
{"id":11,"v":37.5,"x":[79.97305,79.9731,79.97318,79.9731],"y":[6.9048,6.90495,6.9048,6.90465]}
]},"transform":[{"flatten":["x","y"]}],"mark":{"type":"line","clip":true},"encoding":{"x":{"field":"x","type":"quantitative","scale":{"domain":[79.96005,79.9743],"nice":false,"zero":false},"axis":{"values":[79.962,79.964,79.966,79.968,79.97,79.972,79.974],"labelExpr":"datum.value","title":"Longitude","labelPadding":12,"titlePadding":16,"titleX":247}},"y":{"field":"y","type":"quantitative","scale":{"domain":[6.8936,6.9164],"nice":false,"zero":false},"axis":{"values":[6.895,6.9,6.905,6.91,6.915],"labelExpr":"datum.value","title":"Latitude","labelPadding":11,"titlePadding":13,"titleY":138}},"detail":{"field":"id"},"fill":{"field":"v","type":"quantitative","scale":{"type":"threshold","domain":[5,10,15,20,25,30,35],"range":["#0a0ab0","#2d3dc8","#5470e6","#9aaad8","#cfae94","#e88a54","#cc4436","#bc0a20"]},"legend":{"type":"gradient","title":"Sulphate","legendX":461,"legendY":7,"gradientLength":245,"gradientThickness":18}}}},{"data":{"values":[{"c":"(g) Sulphate"}]},"mark":"text","encoding":{"text":{"field":"c"},"x":{"datum":79.9671},"y":{"datum":6.8867}}}]}]}]},
{"width":430,"height":280,"title":{"text":" ","fontSize":1,"offset":3},"layer":[{"data":{"values":[
{"id":1,"v":0.0475,"x":[79.959,79.976,79.976,79.959],"y":[6.892,6.892,6.918,6.918]},
{"id":2,"v":0.0525,"x":[79.9596,79.9596,79.96,79.961,79.9623,79.9629,79.9633,79.9644,79.9647,79.9651,79.9662,79.9701,79.9726,79.973,79.973,79.973,79.972,79.9713,79.971,79.9706],"y":[6.918,6.9162,6.9158,6.9135,6.9094,6.9078,6.9073,6.9074,6.9062,6.9052,6.9048,6.9047,6.9048,6.9054,6.9089,6.9137,6.9144,6.9154,6.9162,6.918]},
{"id":3,"v":0.0575,"x":[79.965,79.9652,79.9659,79.9681,79.9704,79.9713,79.9717,79.9719,79.9723,79.972,79.9713,79.9688,79.9654,79.9651,79.965],"y":[6.9116,6.9143,6.9151,6.9155,6.9154,6.9144,6.9129,6.9094,6.9077,6.9062,6.9056,6.9052,6.9054,6.9062,6.9089]},
{"id":4,"v":0.0625,"x":[79.9657,79.9668,79.9688,79.9706,79.9712,79.9717,79.9718,79.9713,79.9682,79.9659,79.9657,79.966],"y":[6.9075,6.91,6.9129,6.9143,6.914,6.9102,6.9073,6.9066,6.9062,6.9063,6.9066,6.9073]},
{"id":5,"v":0.0675,"x":[79.9681,79.9695,79.9703,79.9707,79.971,79.9715,79.9707,79.9694,79.9682],"y":[6.9077,6.9094,6.9113,6.9133,6.9124,6.9074,6.9069,6.9073,6.9073]},
{"id":6,"v":0.0725,"x":[79.9708,79.9712,79.9715,79.9701,79.9704],"y":[6.9122,6.9092,6.9074,6.9074,6.9105]},
{"id":7,"v":0.0775,"x":[79.9708,79.9713,79.9702,79.9704],"y":[6.911,6.9074,6.9074,6.9097]},
{"id":8,"v":0.0825,"x":[79.9708,79.9711,79.9704,79.9705],"y":[6.91,6.9074,6.9074,6.9089]},
{"id":9,"v":0.0875,"x":[79.9708,79.971,79.9706],"y":[6.9087,6.9074,6.9074]},
{"id":10,"v":0.0525,"x":[79.9596,79.96,79.9613,79.9641,79.9646,79.9649,79.9649,79.9647,79.9645,79.9613,79.96,79.9596],"y":[6.9044,6.9044,6.9035,6.9027,6.9016,6.8986,6.8973,6.8959,6.8947,6.8949,6.8937,6.8932]},
{"id":11,"v":0.0575,"x":[79.9596,79.96,79.9613,79.9629,79.9642,79.9647,79.9648,79.9646,79.9638,79.96,79.9596],"y":[6.9008,6.9008,6.9008,6.9003,6.9,6.8986,6.8976,6.8959,6.8953,6.8955,6.8955]},
{"id":12,"v":0.0625,"x":[79.9604,79.9612,79.9632,79.9642,79.9647,79.9648,79.9645,79.9631,79.9612],"y":[6.8978,6.8989,6.8999,6.9,6.8986,6.8976,6.8965,6.8962,6.8969]},
{"id":13,"v":0.0675,"x":[79.9616,79.9627,79.9638,79.9644,79.9647,79.9644,79.9632,79.9623],"y":[6.8978,6.8988,6.8994,6.899,6.8978,6.8969,6.8967,6.8971]},
{"id":14,"v":0.0725,"x":[79.9625,79.9636,79.9644,79.9646,79.9644,79.9635],"y":[6.8978,6.8987,6.8988,6.8979,6.8972,6.8972]},
{"id":15,"v":0.0775,"x":[79.9635,79.9642,79.9645,79.9644,79.964],"y":[6.8978,6.8982,6.898,6.8974,6.8973]},
{"id":16,"v":0.0425,"x":[79.9596,79.96,79.9623,79.9641,79.9646,79.9644,79.9623,79.96,79.9596],"y":[6.9073,6.9073,6.9069,6.9064,6.9051,6.9045,6.9045,6.9046,6.9047]},
{"id":17,"v":0.0375,"x":[79.9596,79.96,79.9613,79.9625,79.9638,79.9625,79.96,79.9596],"y":[6.9059,6.906,6.9064,6.906,6.9052,6.905,6.9049,6.9049]},
{"id":18,"v":0.0325,"x":[79.9605,79.9613,79.9619,79.9625,79.9616,79.9607],"y":[6.9052,6.9058,6.9057,6.9052,6.905,6.905]},
{"id":19,"v":0.0425,"x":[79.9647,79.9654,79.9701,79.9735,79.9743,79.9742,79.9734,79.9733,79.9732,79.9645,79.9646,79.9654,79.9655,79.9649,79.9646,79.9646],"y":[6.9044,6.9046,6.9043,6.9046,6.9036,6.9021,6.9003,6.8959,6.892,6.892,6.8949,6.8957,6.8974,6.8984,6.9011,6.9038]},
{"id":20,"v":0.0375,"x":[79.965,79.965,79.9656,79.9681,79.9704,79.9719,79.973,79.9732,79.973,79.9721,79.9717],"y":[6.892,6.8949,6.8953,6.8965,6.8981,6.8994,6.901,6.8976,6.8947,6.8943,6.892]},
{"id":21,"v":0.0325,"x":[79.9656,79.9657,79.9681,79.9697,79.9712,79.971,79.9708],"y":[6.892,6.8951,6.8951,6.8955,6.8949,6.8936,6.892]},
{"id":22,"v":0.0275,"x":[79.9669,79.9685,79.9701,79.9707,79.9701,79.9685],"y":[6.8948,6.895,6.8955,6.8949,6.8936,6.8941]},
{"id":23,"v":0.0225,"x":[79.9684,79.9703,79.97,79.9694],"y":[6.8947,6.8948,6.8942,6.8942]},
{"id":24,"v":0.0325,"x":[79.9723,79.973,79.9731,79.9728],"y":[6.8965,6.8984,6.8954,6.8958]},
{"id":25,"v":0.0275,"x":[79.973,79.9731,79.9729],"y":[6.8981,6.8957,6.8965]},
{"id":26,"v":0.0375,"x":[79.9649,79.9654,79.9662,79.9673,79.9662,79.9654,79.965,79.9647,79.9647],"y":[6.9034,6.9019,6.9009,6.9005,6.9001,6.8997,6.8991,6.9003,6.9027]},
{"id":27,"v":0.0325,"x":[79.9649,79.9654,79.9651,79.9649],"y":[6.9019,6.9005,6.8998,6.9005]},
{"id":28,"v":0.0425,"x":[79.9732,79.9733,79.9737,79.9743,79.9752,79.9752],"y":[6.918,6.9137,6.9089,6.9124,6.9135,6.918]},
{"id":29,"v":0.0375,"x":[79.9735,79.9736,79.9738,79.9743,79.9752,79.9752],"y":[6.918,6.9154,6.9137,6.9145,6.9145,6.918]},
{"id":30,"v":0.0325,"x":[79.9737,79.9738,79.9743,79.9752,79.9752],"y":[6.918,6.9149,6.9158,6.9158,6.918]},
{"id":31,"v":0.0325,"x":[79.9703,79.9707,79.9713,79.9724,79.9726],"y":[6.917,6.9162,6.9161,6.9162,6.917]},
{"id":32,"v":0.0525,"x":[79.9737,79.9743,79.9752,79.9752,79.9743,79.9739,79.9737],"y":[6.9074,6.9075,6.9075,6.905,6.9051,6.9054,6.9065]},
{"id":33,"v":0.0575,"x":[79.9739,79.9743,79.9752,79.9752,79.9743],"y":[6.9074,6.9075,6.9075,6.9067,6.9067]},
{"id":34,"v":0.0525,"x":[79.9733,79.9733,79.9734,79.9736,79.9737,79.9743,79.9752,79.9752,79.9733],"y":[6.8936,6.8951,6.8961,6.8957,6.8949,6.8948,6.8948,6.892,6.892]},
{"id":35,"v":0.0575,"x":[79.9735,79.9736,79.9735,79.9733],"y":[6.8954,6.895,6.8948,6.8951]}
]},"transform":[{"flatten":["x","y"]}],"mark":{"type":"line","clip":true},"encoding":{"x":{"field":"x","type":"quantitative","scale":{"domain":[79.96003,79.97432],"nice":false,"zero":false},"axis":{"values":[79.962,79.964,79.966,79.968,79.97,79.972,79.974],"labelExpr":"datum.value","title":"Longitude","labelPadding":14,"titlePadding":16,"titleX":247}},"y":{"field":"y","type":"quantitative","scale":{"domain":[6.8936,6.9164],"nice":false,"zero":false},"axis":{"values":[6.895,6.9,6.905,6.91,6.915],"labelExpr":"datum.value","title":"Latitude","labelPadding":20,"titlePadding":0,"titleY":148}},"detail":{"field":"id"},"fill":{"field":"v","type":"quantitative","scale":{"type":"threshold","domain":[0.025,0.03,0.035,0.04,0.045,0.05,0.055,0.06,0.065,0.07,0.075,0.08,0.085],"range":["#0a0ab0","#1f2ac0","#3345d0","#4866de","#6282ec","#82a0ec","#a8b4d4","#cdbdaa","#e5ae84","#e8985e","#e07c4c","#d65a3e","#c8382e","#bc0a20"]},"legend":{"type":"gradient","title":"Phosphate","legendX":444,"legendY":7,"gradientLength":247,"gradientThickness":18,"labelExpr":"indexof([0.03,0.04,0.05,0.06,0.07,0.08],datum.value)<0?'':datum.value"}}}},{"data":{"values":[{"c":"(h) Phosphate"}]},"mark":"text","encoding":{"text":{"field":"c"},"x":{"datum":79.9681},"y":{"datum":6.8865}}}]}
]}
]}
